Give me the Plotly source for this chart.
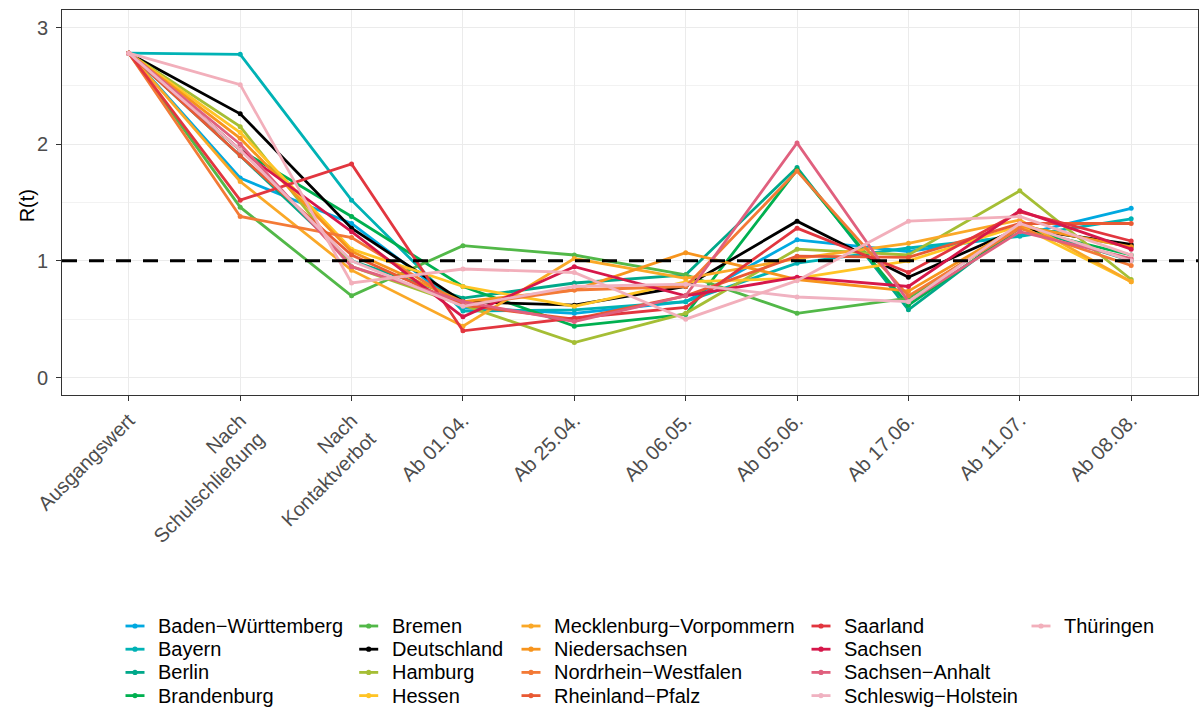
import plotly.graph_objects as go

# x categories (Zeitpunkte)
kategorien = ["Ausgangswert", "Nach<br>Schulschließung", "Nach<br>Kontaktverbot",
              "Ab 01.04.", "Ab 25.04.", "Ab 06.05.", "Ab 05.06.",
              "Ab 17.06.", "Ab 11.07.", "Ab 08.08."]

# R(t) je Land
bw          = [2.78, 1.71, 1.32, 0.60, 0.55, 0.65, 1.18, 1.08, 1.22, 1.45]
bayern      = [2.78, 2.77, 1.52, 0.57, 0.58, 0.65, 0.98, 1.11, 1.21, 1.36]
berlin      = [2.78, 1.90, 1.00, 0.68, 0.81, 0.88, 1.80, 0.58, 1.30, 1.00]
brandenburg = [2.78, 1.95, 1.38, 0.78, 0.44, 0.54, 1.78, 0.62, 1.28, 1.05]
bremen      = [2.78, 1.46, 0.70, 1.13, 1.05, 0.88, 0.55, 0.68, 1.30, 1.12]
deutschland = [2.78, 2.26, 1.28, 0.65, 0.62, 0.78, 1.34, 0.86, 1.28, 1.14]
hamburg     = [2.78, 2.15, 0.95, 0.62, 0.30, 0.55, 1.10, 1.05, 1.60, 0.84]
hessen      = [2.78, 2.10, 1.10, 0.78, 0.61, 0.82, 0.85, 1.00, 1.30, 0.82]
mv          = [2.78, 1.68, 0.92, 0.44, 1.02, 0.85, 1.02, 1.15, 1.35, 0.82]
nds         = [2.78, 2.05, 1.08, 0.65, 0.75, 1.07, 0.84, 0.74, 1.30, 1.12]
nrw         = [2.78, 1.38, 1.20, 0.62, 0.75, 0.78, 1.77, 0.70, 1.28, 0.96]
rlp         = [2.78, 1.90, 1.05, 0.62, 0.50, 0.70, 1.04, 1.03, 1.32, 1.32]
saarland    = [2.78, 1.52, 1.83, 0.40, 0.51, 0.60, 1.28, 0.90, 1.42, 1.17]
sachsen     = [2.78, 1.95, 1.25, 0.52, 0.95, 0.70, 0.86, 0.78, 1.43, 1.10]
sa          = [2.78, 2.00, 0.95, 0.65, 0.48, 0.70, 2.01, 0.65, 1.25, 1.02]
sh          = [2.78, 1.95, 1.00, 0.61, 0.78, 0.80, 0.69, 0.65, 1.32, 1.00]
thueringen  = [2.78, 2.51, 0.81, 0.93, 0.90, 0.50, 0.83, 1.34, 1.38, 1.05]

laender = [
    ("Baden\u2212Württemberg", bw, "#00A9E0"),
    ("Bayern", bayern, "#00B2B5"),
    ("Berlin", berlin, "#00A88A"),
    ("Brandenburg", brandenburg, "#00B050"),
    ("Bremen", bremen, "#52B848"),
    ("Deutschland", deutschland, "#000000"),
    ("Hamburg", hamburg, "#A5BE35"),
    ("Hessen", hessen, "#FFC425"),
    ("Mecklenburg\u2212Vorpommern", mv, "#FAA827"),
    ("Niedersachsen", nds, "#F7941D"),
    ("Nordrhein\u2212Westfalen", nrw, "#F37A36"),
    ("Rheinland\u2212Pfalz", rlp, "#E95A34"),
    ("Saarland", saarland, "#E2363F"),
    ("Sachsen", sachsen, "#D6174A"),
    ("Sachsen\u2212Anhalt", sa, "#E0607E"),
    ("Schleswig\u2212Holstein", sh, "#F0B2C1"),
    ("Thüringen", thueringen, "#F2AFBB"),
]

font = "Liberation Sans, Arial, sans-serif"

# panel box in pixels (like the ggplot original)
L, R, T, B = 62, 1198, 10, 395
W, H = R - L, B - T

def px(x):
    return (x - L) / W

def py(y):
    return (B - y) / H

fig = go.Figure()

for name, vals, col in laender:
    fig.add_trace(go.Scatter(x=kategorien, y=vals, name=name, mode="lines+markers",
                             line=dict(color=col, width=2.8),
                             marker=dict(color=col, size=5),
                             showlegend=False))

# dashed reference line at R(t)=1
fig.add_shape(type="line", xref="paper", x0=0, x1=1, yref="y", y0=1, y1=1,
              line=dict(color="black", width=3, dash="15px,12px"), layer="above")

# legend drawn by hand: 5 columns, 4 rows, filled column by column
key_x = [135, 368.7, 531, 821, 1041]
row_y = [626, 649.2, 672.4, 695.6]
for i, (name, vals, col) in enumerate(laender):
    c, r = i // 4, i % 4
    kx, ky = key_x[c], row_y[r]
    fig.add_shape(type="line", xref="paper", yref="paper",
                  x0=px(kx - 9.5), x1=px(kx + 9.5), y0=py(ky), y1=py(ky),
                  line=dict(color=col, width=2.8))
    fig.add_shape(type="circle", xref="paper", yref="paper",
                  xsizemode="pixel", ysizemode="pixel",
                  xanchor=px(kx), yanchor=py(ky), x0=-2.6, x1=2.6, y0=-2.6, y1=2.6,
                  fillcolor=col, line=dict(color=col, width=0))
    fig.add_annotation(text=name, xref="paper", yref="paper",
                       x=px(kx + 21), y=py(ky), xanchor="left", yanchor="middle",
                       showarrow=False, font=dict(size=20, color="black", family=font))

# y axis title
fig.add_annotation(text="R(t)", xref="paper", yref="paper", x=px(27), y=0.49,
                   textangle=-90, showarrow=False, xanchor="center", yanchor="middle",
                   font=dict(size=20, color="black", family=font))

fig.update_layout(
    width=1203, height=710,
    margin=dict(l=L, r=1203 - R, t=T, b=710 - B),
    paper_bgcolor="white", plot_bgcolor="white",
    font=dict(family=font),
    showlegend=False,
    xaxis=dict(
        range=[-0.6, 9.6], tickangle=-45, automargin=False,
        tickfont=dict(size=20, color="#4D4D4D"),
        showgrid=True, gridcolor="#EBEBEB", gridwidth=1.1,
        showline=True, linecolor="#333333", linewidth=1, mirror=True,
        ticks="outside", ticklen=5, tickcolor="#333333",
        zeroline=False,
    ),
    yaxis=dict(
        range=[-0.15, 3.15], tickvals=[0, 1, 2, 3], automargin=False,
        tickfont=dict(size=20, color="#4D4D4D"), ticklabelstandoff=4,
        showgrid=True, gridcolor="#EBEBEB", gridwidth=1.1,
        minor=dict(dtick=0.5, tick0=0, showgrid=True, gridcolor="#F2F2F2", gridwidth=0.6),
        showline=True, linecolor="#333333", linewidth=1, mirror=True,
        ticks="outside", ticklen=5, tickcolor="#333333",
        zeroline=False,
    ),
)

# page without the default body margin, so the 1203x710 figure fills the window
fig.write_html("out.html", config={"displayModeBar": False},
               post_script="document.body.style.margin='0';document.body.style.overflow='hidden';")
